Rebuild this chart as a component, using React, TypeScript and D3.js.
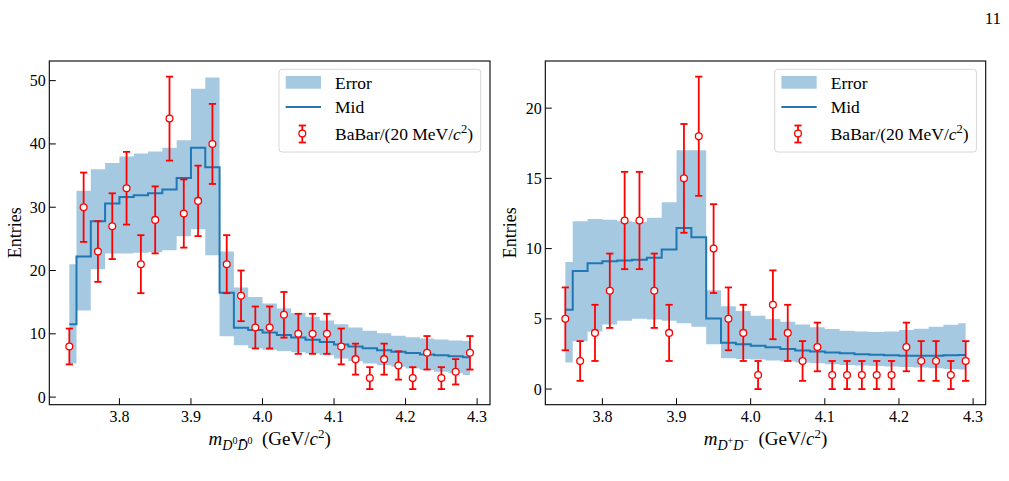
import { useEffect, useRef } from "react";
import * as d3 from "d3";

// D0 D0bar invariant mass spectrum (20 MeV/c^2 bins)
const massNeutral = [
  3.73, 3.75, 3.77, 3.79, 3.81, 3.83, 3.85, 3.87, 3.89, 3.91, 3.93, 3.95, 3.97, 3.99, 4.01,
  4.03, 4.05, 4.07, 4.09, 4.11, 4.13, 4.15, 4.17, 4.19, 4.21, 4.23, 4.25, 4.27, 4.29,
];
const countsNeutral = [
  8, 30, 23, 27, 33, 21, 28, 44, 29, 31, 40, 21, 16, 11, 11, 13, 10, 10, 10, 8, 6, 3, 6, 5, 3,
  7, 3, 4, 7,
];
const midNeutral = [
  11.5, 22.2, 27.8, 30.6, 31.6, 31.9, 32.2, 32.8, 34.6, 39.4, 36.3, 16.5, 10.95, 10.6, 10.2,
  9.8, 9.4, 9.05, 8.7, 8.3, 8.0, 7.7, 7.4, 7.15, 6.95, 6.75, 6.6, 6.45, 6.3,
];
const lowNeutral = [
  5.3, 13.7, 20.2, 22.7, 22.7, 22.8, 22.9, 23.2, 25.4, 26.5, 22.4, 9.6, 8.2, 7.7, 7.5, 7.3,
  7.1, 6.9, 6.6, 6.1, 5.7, 5.3, 5.05, 4.8, 4.5, 4.3, 4.0, 3.75, 3.5,
];
const highNeutral = [
  21.0, 32.6, 36.0, 37.0, 38.0, 38.5, 38.8, 39.4, 40.6, 48.7, 50.5, 23.0, 17.3, 15.8, 14.8,
  14.0, 13.3, 12.7, 12.1, 11.5, 11.0, 10.5, 10.1, 9.7, 9.45, 9.25, 9.1, 8.95, 8.85,
];

// D+ D- invariant mass spectrum
const massCharged = [
  3.75, 3.77, 3.79, 3.81, 3.83, 3.85, 3.87, 3.89, 3.91, 3.93, 3.95, 3.97, 3.99, 4.01, 4.03,
  4.05, 4.07, 4.09, 4.11, 4.13, 4.15, 4.17, 4.19, 4.21, 4.23, 4.25, 4.27, 4.29,
];
const countsCharged = [
  5, 2, 4, 7, 12, 12, 7, 4, 15, 18, 10, 5, 4, 1, 6, 4, 2, 3, 1, 1, 1, 1, 1, 3, 2, 2, 1, 2,
];
const midCharged = [
  5.65, 8.4, 8.95, 9.1, 9.15, 9.2, 9.35, 9.93, 11.46, 10.8, 5.03, 3.3, 3.2, 3.08, 2.98, 2.86,
  2.74, 2.67, 2.6, 2.55, 2.48, 2.45, 2.4, 2.37, 2.37, 2.38, 2.4, 2.43,
];
const lowCharged = [
  1.9, 3.4, 4.1, 4.6, 4.87, 5.0, 4.95, 4.87, 4.68, 4.44, 3.2, 2.2, 2.15, 2.1, 2.03, 1.96, 1.89,
  1.84, 1.77, 1.72, 1.68, 1.65, 1.6, 1.57, 1.53, 1.48, 1.43, 1.39,
];
const highCharged = [
  9.05, 11.95, 12.1, 12.05, 11.95, 11.9, 12.2, 13.3, 17.0, 17.0, 7.04, 5.9, 5.55, 5.22, 4.99,
  4.8, 4.6, 4.4, 4.28, 4.16, 4.09, 4.07, 4.1, 4.2, 4.3, 4.44, 4.58, 4.68,
];

const xTicks = [3.8, 3.9, 4.0, 4.1, 4.2, 4.3];
const yTicksNeutral = [0, 10, 20, 30, 40, 50];
const yTicksCharged = [0, 5, 10, 15, 20];
const legendLabels = ["Error", "Mid", "BaBar/(20 MeV/"];

const WIDTH = 1009;
const HEIGHT = 481;
const FONT = '"Liberation Serif", "Times New Roman", serif';
const BAND = "#a6c9e2";
const MID = "#1f77b4";
const RED = "#ff0000";

type Sel = d3.Selection<SVGSVGElement, unknown, null, undefined>;

interface Panel {
  mass: number[];
  counts: number[];
  mid: number[];
  low: number[];
  high: number[];
  yTicks: number[];
  box: [number, number, number, number];
  sub: [string, string];
  bar: boolean;
  ylabelX: number;
}

const drawErrorbar = (
  g: d3.Selection<SVGGElement, unknown, null, undefined>,
  cx: number,
  y0: number,
  y1: number,
  cy: number
) => {
  g.append("line")
    .attr("x1", cx).attr("x2", cx).attr("y1", y0).attr("y2", y1)
    .attr("stroke", RED).attr("stroke-width", 1.8);
  [y0, y1].forEach((yy) =>
    g.append("line")
      .attr("x1", cx - 3.6).attr("x2", cx + 3.6).attr("y1", yy).attr("y2", yy)
      .attr("stroke", RED).attr("stroke-width", 1.8)
  );
  g.append("circle")
    .attr("cx", cx).attr("cy", cy).attr("r", 3.4)
    .attr("fill", "#fff").attr("stroke", RED).attr("stroke-width", 1.3);
};

const drawPanel = (svg: Sel, p: Panel) => {
  const [left, top, right, bottom] = p.box;
  const errLo = p.counts.map((c) => c - Math.sqrt(c));
  const errHi = p.counts.map((c) => c + Math.sqrt(c));

  // matplotlib-style 5% autoscale margins
  const xMin = d3.min(p.mass)!;
  const xMax = d3.max(p.mass)!;
  const xPad = 0.05 * (xMax - xMin);
  const yMin = Math.min(d3.min(errLo)!, d3.min(p.low)!);
  const yMax = Math.max(d3.max(errHi)!, d3.max(p.high)!);
  const yPad = 0.05 * (yMax - yMin);

  const x = d3.scaleLinear().domain([xMin - xPad, xMax + xPad]).range([left, right]);
  const y = d3.scaleLinear().domain([yMin - yPad, yMax + yPad]).range([bottom, top]);

  const band = d3
    .area<number>()
    .x((d) => x(d))
    .y0((_, i) => y(p.low[i]))
    .y1((_, i) => y(p.high[i]))
    .curve(d3.curveStep);

  const midLine = d3
    .line<number>()
    .x((d) => x(d))
    .y((_, i) => y(p.mid[i]))
    .curve(d3.curveStep);

  svg.append("path").attr("d", band(p.mass)).attr("fill", BAND);
  svg.append("path").attr("d", midLine(p.mass))
    .attr("fill", "none").attr("stroke", MID).attr("stroke-width", 2);

  const gErr = svg.append("g");
  p.mass.forEach((m, i) =>
    drawErrorbar(gErr, x(m), y(errLo[i]), y(errHi[i]), y(p.counts[i]))
  );

  // ticks point inward
  const gAxis = svg.append("g").attr("font-family", FONT).attr("font-size", 16);
  xTicks.forEach((t) => {
    gAxis.append("line")
      .attr("x1", x(t)).attr("x2", x(t)).attr("y1", bottom).attr("y2", bottom - 6.5)
      .attr("stroke", "#000").attr("stroke-width", 1);
    gAxis.append("text")
      .attr("x", x(t)).attr("y", bottom + 17).attr("text-anchor", "middle")
      .text(t.toFixed(1));
  });
  p.yTicks.forEach((t) => {
    gAxis.append("line")
      .attr("x1", left).attr("x2", left + 6.5).attr("y1", y(t)).attr("y2", y(t))
      .attr("stroke", "#000").attr("stroke-width", 1);
    gAxis.append("text")
      .attr("x", left - 3.5).attr("y", y(t) + 5.5).attr("text-anchor", "end")
      .text(String(t));
  });

  svg.append("rect")
    .attr("x", left).attr("y", top).attr("width", right - left).attr("height", bottom - top)
    .attr("fill", "none").attr("stroke", "#000").attr("stroke-width", 1.1);

  // axis titles
  svg.append("text")
    .attr("transform", `translate(${p.ylabelX},${(top + bottom) / 2}) rotate(-90)`)
    .attr("text-anchor", "middle").attr("font-family", FONT).attr("font-size", 18)
    .text("Entries");

  const xl = svg.append("text")
    .attr("x", (left + right) / 2).attr("y", bottom + 40)
    .attr("text-anchor", "middle").attr("font-family", FONT).attr("font-size", 19);
  xl.append("tspan").attr("font-style", "italic").text("m");
  xl.append("tspan").attr("font-style", "italic").attr("font-size", 14).attr("dy", 5)
    .text("D");
  xl.append("tspan").attr("font-size", 10).attr("dy", -6).text(p.sub[0]);
  xl.append("tspan").attr("font-style", "italic").attr("font-size", 14).attr("dy", 6)
    .text(p.bar ? "D\u0304" : "D");
  xl.append("tspan").attr("font-size", 10).attr("dy", -6).text(p.sub[1]);
  xl.append("tspan").attr("dy", 1).text("\u2002(GeV/");
  xl.append("tspan").attr("font-style", "italic").text("c");
  xl.append("tspan").attr("font-size", 13).attr("dy", -7).text("2");
  xl.append("tspan").attr("dy", 7).text(")");

  // legend
  const bw = 201.7;
  const bh = 82.7;
  const bx = right - 9.3 - bw;
  const by = top + 8.3;
  const lg = svg.append("g").attr("font-family", FONT).attr("font-size", 17.5);
  lg.append("rect")
    .attr("x", bx).attr("y", by).attr("width", bw).attr("height", bh).attr("rx", 3)
    .attr("fill", "#fff").attr("fill-opacity", 0.8)
    .attr("stroke", "#d6d6d6").attr("stroke-width", 1);
  lg.append("rect")
    .attr("x", bx + 6.7).attr("y", by + 6.7).attr("width", 35.3).attr("height", 12.7)
    .attr("fill", BAND);
  lg.append("line")
    .attr("x1", bx + 6.7).attr("x2", bx + 42).attr("y1", by + 37.7).attr("y2", by + 37.7)
    .attr("stroke", MID).attr("stroke-width", 2);
  const gl = lg.append("g");
  drawErrorbar(gl, bx + 23.3, by + 56.2, by + 73.2, by + 64.3);
  const baselines = [by + 19.4, by + 44, by + 71];
  legendLabels.forEach((lab, i) => {
    const t = lg.append("text").attr("x", bx + 56).attr("y", baselines[i]).text(lab);
    if (i === 2) {
      t.append("tspan").attr("font-style", "italic").text("c");
      t.append("tspan").attr("font-size", 12.5).attr("dy", -7).text("2");
      t.append("tspan").attr("dy", 7).text(")");
    }
  });
};

const App = () => {
  const svgRef = useRef<SVGSVGElement | null>(null);

  useEffect(() => {
    if (!svgRef.current) return;
    const svg = d3.select(svgRef.current) as Sel;
    svg.selectAll("*").remove();

    svg.append("rect").attr("width", WIDTH).attr("height", HEIGHT).attr("fill", "#fff");
    svg.append("text")
      .attr("x", 1001).attr("y", 24).attr("text-anchor", "end")
      .attr("font-family", FONT).attr("font-size", 17).text("11");

    drawPanel(svg, {
      mass: massNeutral,
      counts: countsNeutral,
      mid: midNeutral,
      low: lowNeutral,
      high: highNeutral,
      yTicks: yTicksNeutral,
      box: [49.3, 61, 490, 404.7],
      sub: ["0", "0"],
      bar: true,
      ylabelX: 21,
    });
    drawPanel(svg, {
      mass: massCharged,
      counts: countsCharged,
      mid: midCharged,
      low: lowCharged,
      high: highCharged,
      yTicks: yTicksCharged,
      box: [545.3, 61, 985.7, 404.7],
      sub: ["+", "\u2212"],
      bar: false,
      ylabelX: 515.5,
    });
  }, []);

  return (
    <svg
      ref={svgRef}
      width={WIDTH}
      height={HEIGHT}
      style={{ position: "absolute", left: 0, top: 0, display: "block" }}
    />
  );
};

export default App;
